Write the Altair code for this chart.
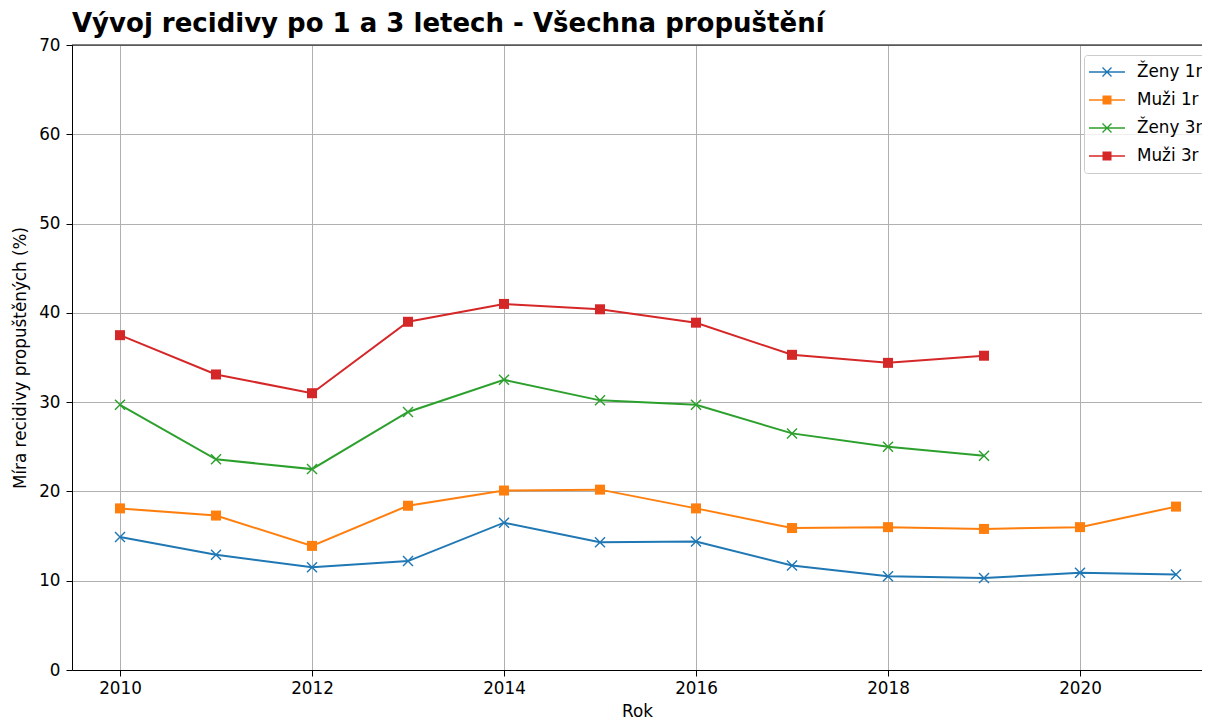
import altair as alt
import pandas as pd

years = list(range(2010, 2022))
zeny_1r = [14.9, 12.9, 11.5, 12.2, 16.5, 14.3, 14.4, 11.7, 10.5, 10.3, 10.9, 10.7]
muzi_1r = [18.1, 17.3, 13.9, 18.4, 20.1, 20.2, 18.1, 15.9, 16.0, 15.8, 16.0, 18.3]
zeny_3r = [29.7, 23.6, 22.5, 28.9, 32.5, 30.2, 29.7, 26.5, 25.0, 24.0]
muzi_3r = [37.5, 33.1, 31.0, 39.0, 41.0, 40.4, 38.9, 35.3, 34.4, 35.2]
series_names = ["Ženy 1r", "Muži 1r", "Ženy 3r", "Muži 3r"]
series_values = [zeny_1r, muzi_1r, zeny_3r, muzi_3r]
colors = ["#1f77b4", "#ff7f0e", "#2ca02c", "#d62728"]

rows = []
for name, vals in zip(series_names, series_values):
    for y, v in zip(years, vals):
        rows.append({"Rok": y, "Hodnota": v, "Serie": name})
df = pd.DataFrame(rows)


def fmt(v):
    return f"{v:.3f}"


def x_path(a, d):
    r1 = [(-a + d, -a - d), (a + d, a - d), (a - d, a + d), (-a - d, -a + d)]
    r2 = [(-a + d, a + d), (-a - d, a - d), (a - d, -a - d), (a + d, -a + d)]
    out = ""
    for r in (r1, r2):
        out += "M" + " L".join(f"{fmt(px)},{fmt(py)}" for px, py in r) + " Z "
    return out.strip()


def sq_path(s):
    return f"M{-s},{-s} H{s} V{s} H{-s} Z"


def line_path(L, w):
    return f"M{-L},{-w} H{L} V{w} H{-L} Z"


PLOT_X = x_path(1.0, 0.10)
PLOT_S = sq_path(1)
LEG_X = line_path(2, 0.09) + " " + x_path(0.5, 0.055)
LEG_S = line_path(2, 0.09) + " " + sq_path(0.5)

FONT = "DejaVu Sans"
FS = 16.8
W, H = 1130, 625
X_MIN = 2009.5
X_MAX = X_MIN + W / 96.0

x_scale = alt.Scale(domain=[X_MIN, X_MAX], nice=False, zero=False)
y_scale = alt.Scale(domain=[0, 70], nice=False)
color_scale = alt.Scale(domain=series_names, range=colors)

legend = alt.Legend(
    title=None,
    orient="none",
    legendX=1012,
    legendY=10,
    padding=8,
    symbolOffset=6,
    labelOffset=21,
    rowPadding=10,
    symbolSize=324,
    symbolOpacity=1,
    symbolStrokeWidth=0,
    labelFont=FONT,
    labelFontSize=FS,
    labelColor="black",
    fillColor="rgba(255,255,255,0.8)",
    strokeColor="#cccccc",
    cornerRadius=3,
)

x_enc = alt.X(
    "Rok:Q",
    scale=x_scale,
    axis=alt.Axis(
        title="Rok",
        values=[2010, 2012, 2014, 2016, 2018, 2020],
        format="d",
        grid=True,
        labelPadding=4,
        titlePadding=7,
    ),
)
y_enc = alt.Y(
    "Hodnota:Q",
    scale=y_scale,
    axis=alt.Axis(
        title="Míra recidivy propuštěných (%)",
        values=[0, 10, 20, 30, 40, 50, 60, 70],
        grid=True,
        labelPadding=6,
        titlePadding=9,
    ),
)

lines = alt.Chart(df).mark_line(strokeWidth=2).encode(
    x=x_enc,
    y=y_enc,
    color=alt.Color("Serie:N", scale=color_scale, legend=None),
    detail="Serie:N",
)
points = alt.Chart(df).mark_point(filled=True, opacity=1, size=100).encode(
    x="Rok:Q",
    y="Hodnota:Q",
    color=alt.Color("Serie:N", scale=color_scale, legend=None),
    shape=alt.Shape(
        "Serie:N",
        scale=alt.Scale(domain=series_names, range=[PLOT_X, PLOT_S, PLOT_X, PLOT_S]),
        legend=None,
    ),
)
legend_layer = alt.Chart(df).mark_point(filled=True, opacity=0).encode(
    x="Rok:Q",
    y="Hodnota:Q",
    color=alt.Color("Serie:N", scale=color_scale, legend=legend),
    shape=alt.Shape(
        "Serie:N",
        scale=alt.Scale(domain=series_names, range=[LEG_X, LEG_S, LEG_X, LEG_S]),
        legend=legend,
    ),
)
top_spine = alt.Chart(pd.DataFrame({"v": [70]})).mark_rule(
    color="black", strokeWidth=1
).encode(y=alt.Y("v:Q", scale=y_scale), x=alt.value(0), x2=alt.value(W))

chart = (
    alt.layer(lines, points, top_spine, legend_layer)
    .resolve_scale(color="independent", shape="independent")
    .properties(
        width=W,
        height=H,
        autosize=alt.AutoSizeParams(type="none"),
        padding={"left": 64, "top": 37, "right": 0, "bottom": 51},
        title=alt.TitleParams(
            "Vývoj recidivy po 1 a 3 letech - Všechna propuštění",
            anchor="start",
            frame="group",
            font=FONT,
            fontSize=26,
            fontWeight="bold",
            color="black",
            baseline="alphabetic",
            offset=12,
            dy=33,
        ),
    )
    .configure_view(stroke=None)
    .configure_axis(
        labelFont=FONT,
        labelFontSize=FS,
        labelColor="black",
        titleFont=FONT,
        titleFontSize=FS,
        titleFontWeight="normal",
        titleColor="black",
        domainColor="black",
        domainWidth=1,
        tickColor="black",
        tickSize=6,
        tickWidth=1,
        gridColor="#b0b0b0",
        gridWidth=1,
    )
)

chart.save("out.html", embed_options={"renderer": "svg", "actions": False})
